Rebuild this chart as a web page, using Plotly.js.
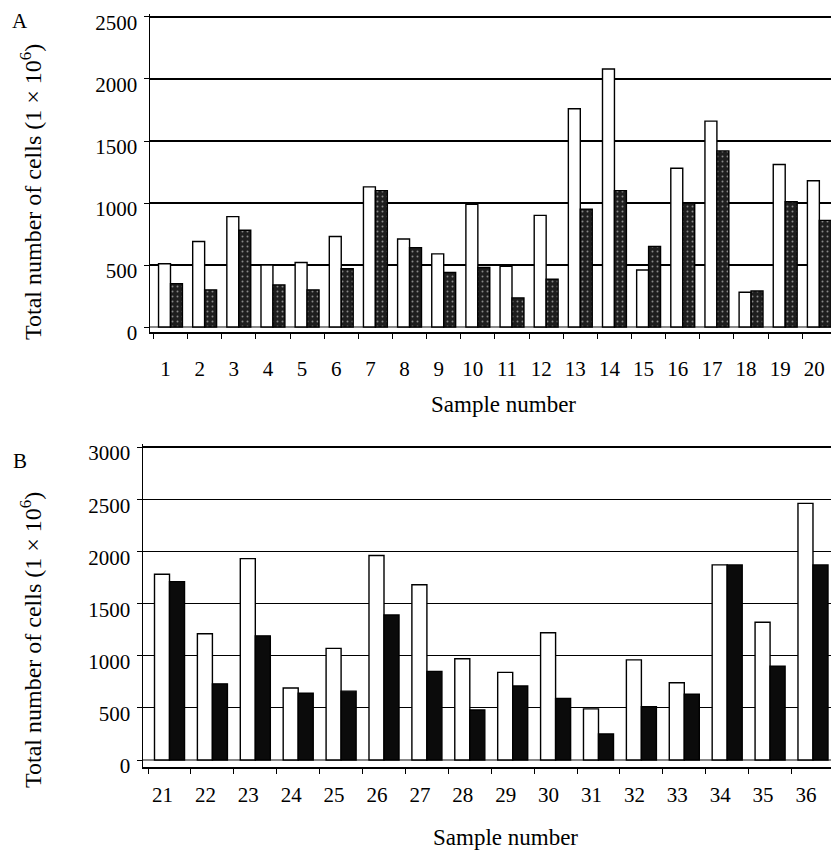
<!DOCTYPE html>
<html>
<head>
<meta charset="utf-8">
<script src="https://cdn.plot.ly/plotly-3.0.1.min.js"></script>
<style>html,body{margin:0;padding:0;background:#fff;}#chart{width:831px;height:850px;}</style>
</head>
<body>
<div id="chart"></div>
<script>
// Panel A data
const samplesA = ['1','2','3','4','5','6','7','8','9','10','11','12','13','14','15','16','17','18','19','20'];
const whiteA = [510, 690, 890, 500, 520, 730, 1130, 710, 590, 990, 490, 900, 1760, 2080, 460, 1280, 1660, 280, 1310, 1180];
const darkA  = [350, 300, 780, 340, 300, 470, 1100, 640, 440, 480, 235, 385, 950, 1100, 650, 1000, 1420, 290, 1010, 860];
const yTicksA = [0, 500, 1000, 1500, 2000, 2500];

// Panel B data
const samplesB = ['21','22','23','24','25','26','27','28','29','30','31','32','33','34','35','36'];
const whiteB = [1780, 1210, 1930, 690, 1070, 1960, 1680, 970, 840, 1220, 490, 960, 740, 1870, 1320, 2460];
const darkB  = [1710, 730, 1190, 640, 660, 1390, 850, 480, 710, 590, 250, 510, 630, 1870, 900, 1870];
const yTicksB = [0, 500, 1000, 1500, 2000, 2500, 3000];

const xTitle = 'Sample number';
const yTitle = 'Total number of cells (1 × 10<sup>6</sup>)';

const W = 831, H = 850;
const px = v => v / W;
const py = v => 1 - v / H;
const FONT = 'Liberation Serif, Times New Roman, serif';

const whiteStyle = {color: '#ffffff', line: {color: '#000', width: 1.4}};
const darkStyleA = {color: '#262626', line: {color: '#000', width: 1.4},
  pattern: {shape: '.', bgcolor: '#1e1e1e', fgcolor: '#8a8a8a', size: 5, solidity: 0.12}};
const darkStyleB = {color: '#0b0b0b', line: {color: '#000', width: 1.4}};

const traces = [
  {type: 'bar', x: samplesA, y: whiteA, marker: whiteStyle, xaxis: 'x', yaxis: 'y', showlegend: false},
  {type: 'bar', x: samplesA, y: darkA, marker: darkStyleA, xaxis: 'x', yaxis: 'y', showlegend: false},
  {type: 'bar', x: samplesB, y: whiteB, marker: whiteStyle, xaxis: 'x2', yaxis: 'y2', showlegend: false},
  {type: 'bar', x: samplesB, y: darkB, marker: darkStyleB, xaxis: 'x2', yaxis: 'y2', showlegend: false}
];

function xAxis(domL, range, shift, standoff, anchor) {
  return {
    domain: [px(domL), 1], range: range, type: 'category', anchor: anchor,
    showline: true, linecolor: '#000', linewidth: 1.5,
    ticks: 'outside', ticklen: 5, tickcolor: '#000', tickwidth: 1, tickson: 'boundaries',
    showgrid: false, zeroline: false, ticklabelshift: shift, ticklabelstandoff: standoff,
    tickfont: {family: FONT, size: 21, color: '#000'}, fixedrange: true
  };
}
function yAxis(top, bottom, range, tickvals, anchor) {
  return {
    domain: [py(bottom), py(top)], range: range, anchor: anchor,
    tickvals: tickvals, ticktext: tickvals.map(String),
    showline: true, linecolor: '#000', linewidth: 1.5,
    ticks: 'outside', ticklen: 5, tickcolor: '#000', tickwidth: 1,
    showgrid: true, gridcolor: '#000', gridwidth: 1.2,
    zeroline: true, zerolinecolor: '#888', zerolinewidth: 1.5,
    ticklabelshift: 6, ticklabelstandoff: 2,
    tickfont: {family: FONT, size: 21, color: '#000'}, fixedrange: true
  };
}

function note(text, x, y, size, angle) {
  return {text: text, xref: 'paper', yref: 'paper', x: px(x), y: py(y),
    xanchor: 'center', yanchor: 'middle', showarrow: false, textangle: angle || 0,
    font: {family: FONT, size: size, color: '#000'}};
}

const layout = {
  width: W, height: H,
  margin: {l: 0, r: 0, t: 0, b: 0},
  paper_bgcolor: '#fff', plot_bgcolor: '#fff',
  barmode: 'group', bargap: 0.3, bargroupgap: 0,
  font: {family: FONT, color: '#000'},
  xaxis: xAxis(150, [-0.600, 19.341], -5, 17, 'y'),
  yaxis: yAxis(14, 332, [-40, 2524], yTicksA, 'x'),
  xaxis2: xAxis(143, [-0.618, 15.42], -7, 8, 'y2'),
  yaxis2: yAxis(444, 767, [-67, 3029], yTicksB, 'x2'),
  annotations: [
    note('A', 20, 21, 21),
    note('B', 20, 461, 21),
    note(xTitle, 503, 404, 23),
    note(xTitle, 505, 837, 23),
    note(yTitle, 31, 192, 24, -90),
    note(yTitle, 31, 640, 24, -90)
  ]
};

Plotly.newPlot('chart', traces, layout, {displayModeBar: false, staticPlot: true});
</script>
</body>
</html>
